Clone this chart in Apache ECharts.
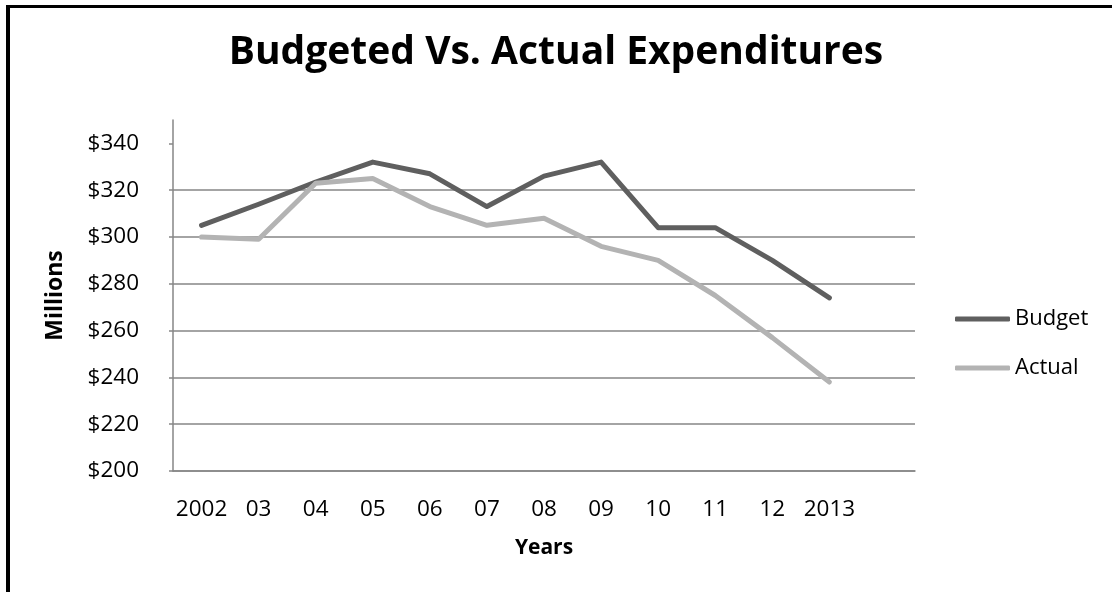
<!DOCTYPE html>
<html>
<head>
<meta charset="utf-8">
<script src="https://cdn.jsdelivr.net/npm/echarts@6/dist/echarts.min.js"></script>
<style>
html,body{margin:0;padding:0;background:#fff;}
#frame{position:absolute;left:6px;top:5px;width:1200px;height:700px;border-left:4px solid #000;border-top:3px solid #000;box-sizing:border-box;pointer-events:none;z-index:2;}
#chart{position:absolute;left:0;top:0;width:1112px;height:592px;}
</style>
</head>
<body>
<div id="chart"></div>
<div id="frame"></div>
<script>
const titleText = 'Budgeted Vs. Actual Expenditures';
const categories = ['2002','03','04','05','06','07','08','09','10','11','12','2013',''];
const budget = [305, 314, 323.5, 332, 327, 313, 326, 332, 304, 304, 290, 274];
const actual = [300, 299, 323, 325, 313, 305, 308, 296, 290, 275, 257, 238];
const yTicks = [200, 220, 240, 260, 280, 300, 320, 340];
const seriesNames = ['Budget', 'Actual'];
const FONT = '"Open Sans", "DejaVu Sans", sans-serif';

const chart = echarts.init(document.getElementById('chart'));
chart.setOption({
  animation: false,
  backgroundColor: '#ffffff',
  title: {
    text: titleText,
    left: 'center',
    top: 28,
    textStyle: {fontFamily: FONT, fontWeight: 'bold', fontSize: 39, color: '#000'}
  },
  legend: {
    orient: 'vertical',
    left: 950,
    top: 301,
    itemWidth: 55,
    itemHeight: 5,
    itemGap: 23,
    icon: 'roundRect',
    data: seriesNames,
    textStyle: {fontFamily: FONT, fontSize: 22, color: '#000', lineHeight: 26, padding: [0,0,0,0]}
  },
  grid: {left: 173, right: 197, top: 120, bottom: 121, containLabel: false},
  xAxis: {
    type: 'category',
    data: categories,
    boundaryGap: true,
    name: 'Years',
    nameLocation: 'middle',
    nameGap: 67,
    nameTextStyle: {fontFamily: FONT, fontWeight: 'bold', fontSize: 21, color: '#000'},
    axisLine: {lineStyle: {color: '#868686', width: 1.5}},
    axisTick: {show: false},
    axisLabel: {fontFamily: FONT, fontSize: 22.5, color: '#000', margin: 27, interval: 0}
  },
  yAxis: {
    type: 'value',
    min: 200,
    max: 350,
    interval: 20,
    name: 'Millions',
    nameLocation: 'middle',
    nameRotate: 90,
    nameGap: 106,
    nameTextStyle: {fontFamily: FONT, fontWeight: 'bold', fontSize: 23, color: '#000'},
    axisLine: {show: true, lineStyle: {color: '#868686', width: 1.5}},
    axisTick: {show: true, inside: false, length: 4, customValues: yTicks, lineStyle: {color: '#868686', width: 1.5}},
    axisLabel: {fontFamily: FONT, fontSize: 22.5, color: '#000', margin: 34, customValues: yTicks,
      formatter: v => '$' + v},
    splitLine: {show: true, showMaxLine: false, lineStyle: {color: '#868686', width: 1.5}}
  },
  series: [
    {name: seriesNames[0], type: 'line', data: budget, symbol: 'none', color: '#5f5f5f',
     lineStyle: {width: 5, color: '#5f5f5f', cap: 'round', join: 'round'}},
    {name: seriesNames[1], type: 'line', data: actual, symbol: 'none', color: '#b3b3b3',
     lineStyle: {width: 5, color: '#b3b3b3', cap: 'round', join: 'round'}}
  ]
});
</script>
</body>
</html>
